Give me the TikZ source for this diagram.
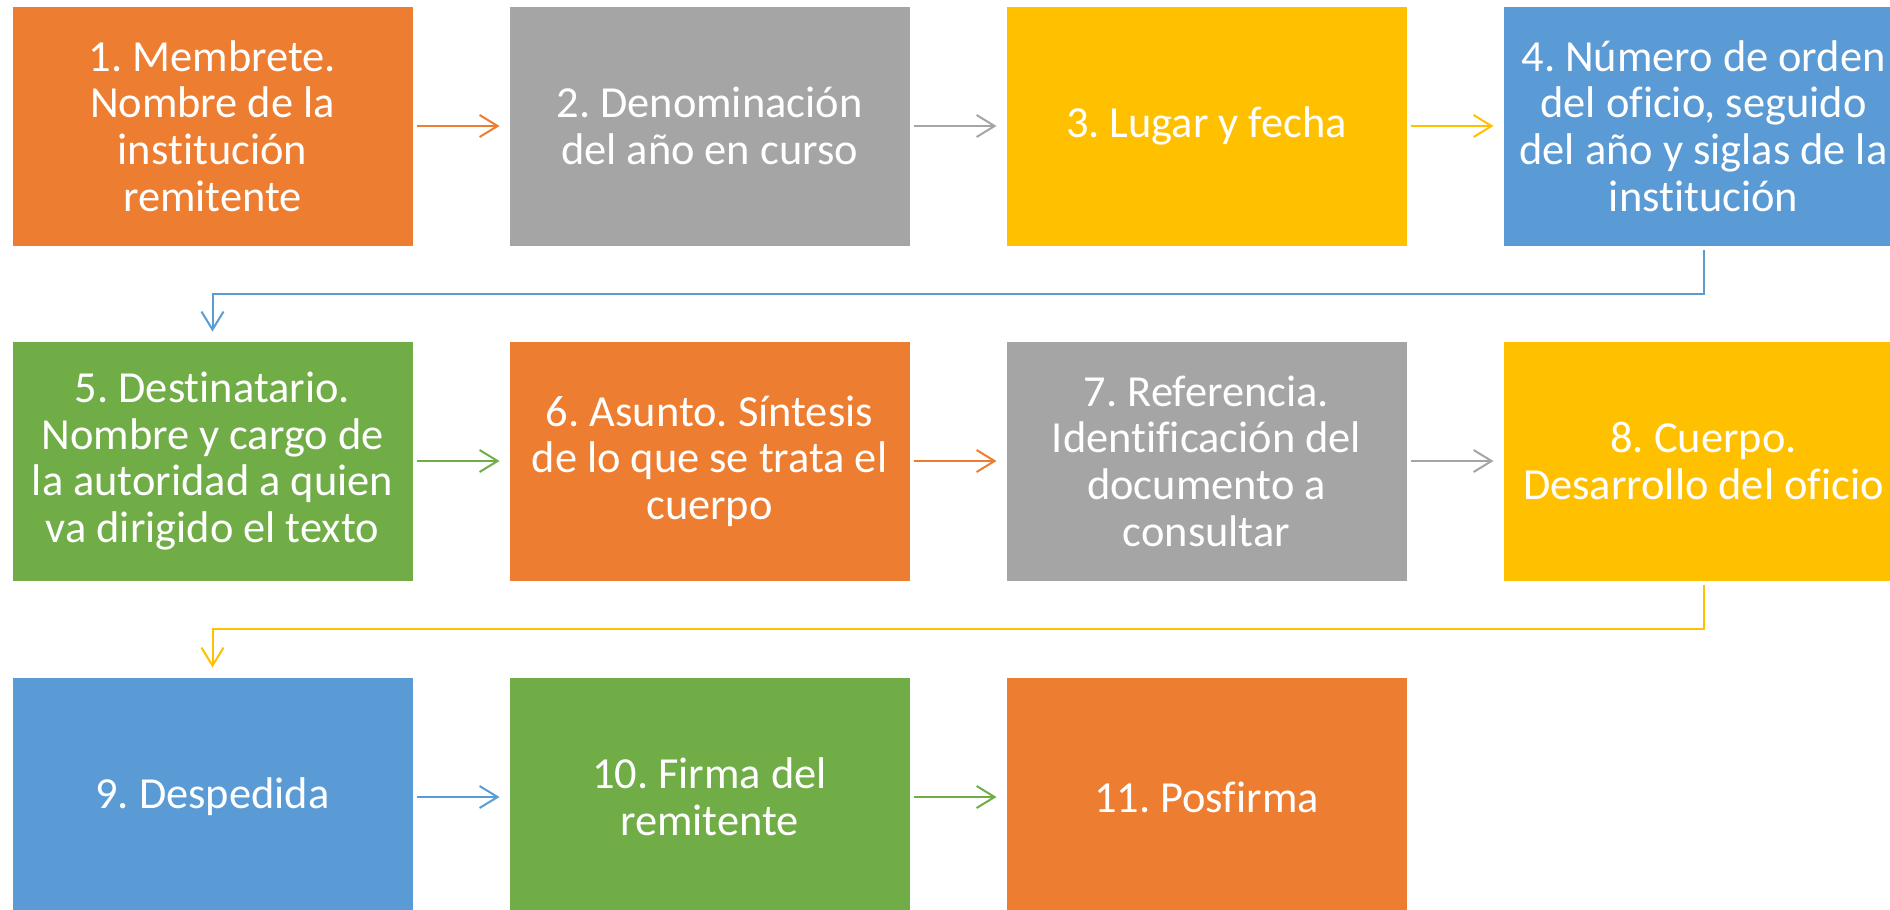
\documentclass[tikz,border=0pt]{standalone}
\usepackage{fontspec}
\setmainfont{Carlito}[Ligatures=NoCommon]
\usetikzlibrary{arrows.meta}
\definecolor{ofOrange}{HTML}{ED7D31}
\definecolor{ofGray}{HTML}{A5A5A5}
\definecolor{ofYellow}{HTML}{FFC000}
\definecolor{ofBlue}{HTML}{5B9BD5}
\definecolor{ofGreen}{HTML}{70AD47}
\begin{document}
\frenchspacing
\begin{tikzpicture}[x=0.5pt,y=-0.5pt,
    paso/.style={rectangle,draw=white,line width=0.5pt,minimum width=200.5pt,
      minimum height=120pt,inner sep=0pt,align=center,text=white,
      font=\fontsize{22.2}{23.3}\selectfont},
    flecha/.style={line width=1pt,-{Straight Barb[length=9pt,width=11pt]},
      shorten <=1.5pt,shorten >=4.5pt}]
  \useasboundingbox (0,0) rectangle (1890,910);
  \clip (0,0) rectangle (1890,910);
  \draw
    (212.5,126) node[paso,fill=ofOrange] (1){1. Membrete.\\Nombre de la\\institución\\remitente}
    (709.5,126) node[paso,fill=ofGray] (2){2. Denominación\\del año en curso}
    (1206.5,126) node[paso,fill=ofYellow] (3){3. Lugar y fecha}
    (1703.5,126) node[paso,fill=ofBlue] (4){4. Número de orden\\del oficio, seguido\\del año y siglas de la\\institución}
    (212.5,461) node[paso,fill=ofGreen] (5){5. Destinatario.\\Nombre y cargo de\\la autoridad a quien\\va dirigido el texto}
    (709.5,461) node[paso,fill=ofOrange] (6){6. Asunto. Síntesis\\de lo que se trata el\\cuerpo}
    (1206.5,461) node[paso,fill=ofGray] (7){7. Referencia.\\Identificación del\\documento a\\consultar}
    (1703.5,461) node[paso,fill=ofYellow] (8){8. Cuerpo.\\Desarrollo del oficio}
    (212.5,797) node[paso,fill=ofBlue] (9){9. Despedida}
    (709.5,797) node[paso,fill=ofGreen] (10){10. Firma del\\remitente}
    (1206.5,797) node[paso,fill=ofOrange] (11){11. Posfirma};
  \begin{scope}[flecha]
    \draw[ofOrange] (1) to (2);
    \draw[ofGray] (2) to (3);
    \draw[ofYellow] (3) to (4);
    \draw[ofBlue] (4.south) -- ++(0,47) -| (5.north);
    \draw[ofGreen] (5) to (6);
    \draw[ofOrange] (6) to (7);
    \draw[ofGray] (7) to (8);
    \draw[ofYellow] (8.south) -- ++(0,47) -| (9.north);
    \draw[ofBlue] (9) to (10);
    \draw[ofGreen] (10) to (11);
  \end{scope}
\end{tikzpicture}
\end{document}
